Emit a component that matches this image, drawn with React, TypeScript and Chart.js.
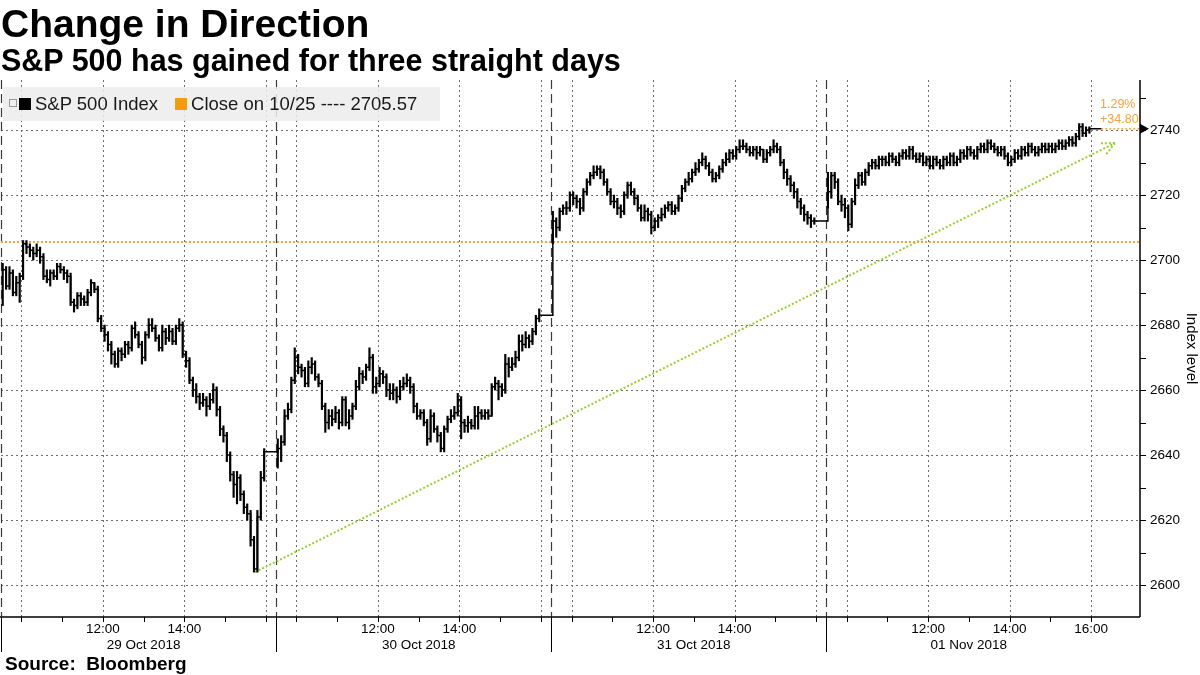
import React, { useEffect, useRef } from "react";
import { Chart, registerables } from "chart.js";

Chart.register(...registerables);

// ---------- data ----------
const dayLabels = ["29 Oct 2018", "30 Oct 2018", "31 Oct 2018", "01 Nov 2018"];

const close29 = [2697,2692,2696,2690,2693,2695,2705,2704,2703,2702,2703,2701,2695,2694,2696,2695,2698,2697,2696,2695,2687,2686,2689,2688,2687,2690,2693,2691,2682,2679,2677,2674,2671,2668,2672,2671,2674,2673,2679,2677,2674,2670,2677,2680,2679,2676,2673,2678,2676,2678,2675,2679,2680,2671,2669,2663,2660,2658,2656,2657,2655,2657,2660,2654,2648,2646,2640,2634,2631,2633,2628,2624,2622,2614,2605,2621,2633,2641];
const high29 = [2699,2698,2698,2697,2695,2696,2706,2706,2705,2704,2705,2704,2702,2697,2697,2697,2699,2699,2698,2697,2696,2688,2690,2690,2689,2691,2694,2693,2692,2683,2680,2678,2675,2672,2673,2673,2675,2675,2680,2681,2678,2675,2678,2682,2682,2680,2677,2680,2679,2680,2679,2680,2682,2681,2672,2670,2664,2662,2659,2659,2658,2659,2662,2661,2655,2649,2647,2641,2635,2635,2634,2629,2625,2623,2615,2623,2635,2642];
const low29 = [2686,2691,2691,2689,2689,2687,2694,2702,2701,2700,2701,2699,2694,2693,2692,2694,2694,2696,2694,2693,2686,2684,2685,2686,2686,2686,2689,2690,2681,2678,2675,2672,2668,2667,2667,2669,2670,2671,2672,2676,2673,2668,2669,2676,2678,2675,2672,2672,2674,2675,2674,2674,2678,2670,2667,2662,2658,2656,2654,2655,2652,2654,2656,2652,2646,2644,2638,2632,2627,2625,2626,2622,2620,2612,2604,2604,2620,2632];

const close30 = [2642,2644,2652,2654,2663,2670,2667,2666,2662,2667,2668,2664,2662,2655,2650,2652,2651,2653,2650,2657,2650,2652,2655,2661,2665,2664,2667,2670,2661,2662,2665,2664,2660,2659,2660,2658,2661,2662,2663,2661,2655,2652,2653,2650,2645,2652,2648,2646,2642,2648,2651,2652,2653,2657,2650,2649,2650,2649,2652,2653,2652,2653,2652,2661,2662,2661,2660,2668,2667,2668,2670,2675,2674,2676,2675,2678,2682,2683];
const high30 = [2645,2646,2654,2656,2664,2673,2671,2668,2667,2669,2670,2669,2665,2663,2656,2654,2654,2655,2654,2658,2658,2654,2656,2663,2667,2666,2668,2673,2671,2664,2667,2666,2665,2662,2662,2661,2663,2664,2665,2664,2662,2656,2654,2654,2651,2654,2653,2649,2647,2649,2652,2654,2655,2659,2658,2651,2652,2651,2655,2655,2654,2654,2654,2662,2664,2663,2662,2671,2670,2670,2672,2677,2677,2678,2677,2679,2683,2685];
const low30 = [2636,2638,2643,2651,2653,2662,2665,2664,2661,2661,2665,2663,2661,2654,2647,2648,2649,2650,2648,2649,2649,2648,2651,2654,2660,2662,2663,2666,2659,2659,2661,2662,2658,2657,2657,2656,2657,2660,2661,2659,2653,2651,2651,2649,2643,2644,2647,2644,2641,2641,2647,2650,2651,2652,2645,2647,2647,2648,2648,2648,2651,2651,2651,2652,2660,2657,2658,2659,2664,2666,2667,2669,2672,2673,2673,2674,2677,2681];

const close31 = [2712,2710,2715,2716,2716,2720,2719,2718,2716,2721,2724,2726,2727,2728,2727,2724,2721,2718,2718,2716,2715,2720,2723,2721,2719,2716,2713,2715,2714,2710,2712,2713,2714,2716,2717,2715,2716,2719,2722,2724,2725,2727,2728,2730,2731,2729,2727,2725,2726,2728,2730,2731,2733,2732,2734,2735,2735,2734,2733,2734,2733,2734,2731,2733,2734,2735,2734,2730,2727,2725,2723,2721,2718,2716,2714,2713,2712,2712];
const high31 = [2715,2713,2716,2717,2718,2721,2721,2720,2719,2722,2725,2727,2729,2729,2729,2728,2725,2722,2720,2719,2717,2721,2724,2724,2722,2720,2717,2717,2716,2715,2713,2714,2716,2717,2718,2718,2717,2720,2723,2725,2727,2728,2730,2731,2733,2732,2730,2728,2727,2729,2731,2733,2734,2734,2735,2737,2737,2736,2735,2735,2735,2735,2734,2734,2735,2737,2736,2735,2731,2728,2726,2724,2722,2719,2717,2715,2714,2713];
const low31 = [2705,2707,2709,2714,2714,2715,2717,2716,2714,2715,2720,2723,2725,2726,2725,2723,2720,2717,2716,2714,2713,2714,2719,2720,2717,2715,2712,2712,2712,2708,2709,2710,2712,2713,2715,2714,2714,2715,2718,2721,2723,2724,2726,2727,2729,2728,2726,2724,2724,2725,2727,2729,2730,2731,2731,2733,2734,2733,2732,2732,2731,2732,2730,2730,2732,2733,2733,2729,2725,2723,2721,2719,2716,2714,2712,2711,2710,2711];

const close01 = [2721,2726,2724,2718,2717,2716,2711,2718,2723,2726,2724,2727,2729,2730,2729,2731,2731,2730,2732,2731,2730,2732,2733,2732,2734,2732,2731,2732,2730,2731,2729,2731,2730,2729,2731,2730,2732,2730,2731,2733,2732,2734,2733,2732,2734,2735,2734,2736,2735,2734,2733,2734,2732,2730,2731,2733,2732,2734,2733,2735,2734,2733,2734,2735,2734,2735,2734,2735,2736,2735,2736,2737,2736,2738,2741,2739,2740,2740.37];
const high01 = [2727,2727,2727,2725,2720,2719,2717,2719,2725,2727,2727,2728,2730,2731,2731,2732,2732,2732,2733,2733,2732,2733,2734,2734,2735,2735,2733,2733,2733,2732,2732,2732,2732,2731,2732,2732,2733,2733,2732,2734,2734,2735,2735,2734,2735,2736,2736,2737,2737,2736,2735,2735,2735,2733,2732,2734,2734,2735,2735,2736,2736,2735,2735,2736,2736,2736,2736,2736,2737,2737,2737,2738,2738,2739,2742,2742,2741,2741];
const low01 = [2716,2719,2722,2717,2715,2713,2709,2710,2717,2722,2723,2723,2726,2728,2728,2728,2729,2729,2729,2730,2729,2729,2731,2731,2731,2731,2730,2730,2729,2729,2728,2728,2729,2728,2728,2729,2729,2729,2729,2730,2731,2731,2732,2731,2731,2733,2733,2733,2734,2733,2732,2732,2731,2729,2729,2730,2731,2731,2732,2732,2733,2732,2732,2733,2733,2733,2733,2733,2734,2734,2734,2735,2735,2735,2737,2738,2738,2739];

const prevClose = 2705.57;
const trendX = [374, 1640];
const trendY = [2604, 2736];
const yLabelTicks = [2600, 2620, 2640, 2660, 2680, 2700, 2720, 2740];
const gridHours = [10, 12, 14, 16];
const tickHours = [10, 11, 12, 13, 14, 15, 16];

// session timeline: 09:30 -> 16:15 = 405 minutes per day, 5-minute bars
const SESSION = 405;
const BAR = 5;
const X_MAX = 1677;
const Y_MIN = 2590.2;
const Y_MAX = 2755.4;

const days = [
  { c: close29, h: high29, l: low29 },
  { c: close30, h: high30, l: low30 },
  { c: close31, h: high31, l: low31 },
  { c: close01, h: high01, l: low01 },
];

const hourX = (d: number, h: number) => d * SESSION + (h - 9.5) * 60;

const FONT = "'Liberation Sans', Arial, sans-serif";
const ORANGE = "#f2a33a";
const GREEN = "#9ccc34";

export default function App() {
  const ref = useRef<HTMLCanvasElement | null>(null);

  useEffect(() => {
    const barPts: any[] = [];
    const linePts: any[] = [];
    days.forEach((d, di) => {
      d.c.forEach((c, k) => {
        const x = di * SESSION + BAR * k + 2.5;
        barPts.push({ x, y: [d.l[k], d.h[k]] });
        linePts.push({ x, y: c });
      });
      linePts.push({ x: di * SESSION + SESSION, y: d.c[d.c.length - 1] });
    });
    const last = close01[close01.length - 1];
    const lastX = 3 * SESSION + SESSION;
    const chg = last - prevClose;
    const pct = (chg / prevClose) * 100;

    const xTicks: number[] = [];
    for (let d = 0; d < 4; d++) for (const h of tickHours) xTicks.push(hourX(d, h));

    const overlay = {
      id: "overlay",
      beforeDatasetsDraw(chart: any) {
        const { ctx, chartArea: a, scales } = chart;
        const x = scales.x, y = scales.y;
        ctx.save();
        ctx.lineWidth = 1;
        ctx.strokeStyle = "#6e6e6e";
        ctx.setLineDash([2, 3]);
        for (const v of yLabelTicks) {
          const py = Math.round(y.getPixelForValue(v)) + 0.5;
          ctx.beginPath(); ctx.moveTo(a.left, py); ctx.lineTo(a.right, py); ctx.stroke();
        }
        for (let d = 0; d < 4; d++) {
          for (const h of gridHours) {
            const px = Math.round(x.getPixelForValue(hourX(d, h))) + 0.5;
            ctx.beginPath(); ctx.moveTo(px, a.top); ctx.lineTo(px, a.bottom); ctx.stroke();
          }
        }
        ctx.strokeStyle = "#3a3a3a";
        ctx.lineWidth = 1.2;
        ctx.setLineDash([9, 5]);
        for (let d = 0; d < 4; d++) {
          const px = Math.round(x.getPixelForValue(d * SESSION)) + 0.5;
          ctx.beginPath(); ctx.moveTo(px, a.top); ctx.lineTo(px, a.bottom); ctx.stroke();
        }
        ctx.restore();
      },
      afterDraw(chart: any) {
        const { ctx, chartArea: a, scales } = chart;
        const x = scales.x, y = scales.y;
        ctx.save();
        ctx.setLineDash([]);
        ctx.strokeStyle = "#000";
        ctx.lineWidth = 1.5;
        // axes
        ctx.beginPath();
        ctx.moveTo(0, a.bottom); ctx.lineTo(a.right, a.bottom);
        ctx.moveTo(a.right, a.top); ctx.lineTo(a.right, a.bottom);
        ctx.stroke();
        ctx.lineWidth = 1;
        // y tick marks every 10
        for (let v = 2600; v <= 2750; v += 10) {
          const py = Math.round(y.getPixelForValue(v)) + 0.5;
          ctx.beginPath(); ctx.moveTo(a.right, py); ctx.lineTo(a.right + 6, py); ctx.stroke();
        }
        // x tick marks
        for (const t of xTicks) {
          const px = Math.round(x.getPixelForValue(t)) + 0.5;
          ctx.beginPath(); ctx.moveTo(px, a.bottom); ctx.lineTo(px, a.bottom + 5); ctx.stroke();
        }
        for (let d = 0; d < 4; d++) {
          const px = Math.round(x.getPixelForValue(d * SESSION)) + 0.5;
          ctx.beginPath(); ctx.moveTo(px, a.bottom); ctx.lineTo(px, a.bottom + 35); ctx.stroke();
        }
        // last price triangle
        const ly = y.getPixelForValue(last);
        ctx.fillStyle = "#000";
        ctx.beginPath();
        ctx.moveTo(a.right, ly - 5); ctx.lineTo(a.right + 9, ly); ctx.lineTo(a.right, ly + 5);
        ctx.closePath(); ctx.fill();
        // arrow head on trend line
        const x0 = x.getPixelForValue(trendX[0]), y0 = y.getPixelForValue(trendY[0]);
        const x1 = x.getPixelForValue(trendX[1]), y1 = y.getPixelForValue(trendY[1]);
        const ang = Math.atan2(y1 - y0, x1 - x0);
        ctx.strokeStyle = GREEN;
        ctx.lineWidth = 2;
        ctx.setLineDash([2, 2]);
        for (const s of [-1, 1]) {
          const aa = ang + Math.PI + s * 0.45;
          ctx.beginPath();
          ctx.moveTo(x1, y1);
          ctx.lineTo(x1 + 14 * Math.cos(aa), y1 + 14 * Math.sin(aa));
          ctx.stroke();
        }
        // change annotation
        ctx.fillStyle = ORANGE;
        ctx.font = `12.5px ${FONT}`;
        ctx.textAlign = "left";
        ctx.textBaseline = "middle";
        ctx.fillText(`${pct.toFixed(2)}%`, a.right - 40, ly - 24);
        ctx.fillText(`${chg >= 0 ? "+" : ""}${chg.toFixed(2)}`, a.right - 40, ly - 9);
        ctx.restore();
      },
    };

    const chart = new Chart(ref.current as HTMLCanvasElement, {
      type: "line",
      data: {
        datasets: [
          {
            type: "line",
            label: "S&P 500 Index",
            data: linePts,
            borderColor: "#000",
            borderWidth: 1.5,
            stepped: "before",
            pointRadius: 0,
            order: 0,
          } as any,
          {
            type: "bar",
            label: "range",
            data: barPts,
            backgroundColor: "#000",
            borderWidth: 0,
            barThickness: 1.5,
            order: 1,
          } as any,
          {
            type: "line",
            label: "last",
            data: [{ x: lastX, y: last }, { x: X_MAX, y: last }],
            borderColor: ORANGE,
            borderWidth: 1.5,
            borderDash: [2, 2],
            pointRadius: 0,
            order: 2,
          } as any,
          {
            type: "line",
            label: "Close on 10/25",
            data: [{ x: 0, y: prevClose }, { x: X_MAX, y: prevClose }],
            borderColor: ORANGE,
            borderWidth: 2,
            borderDash: [2, 2],
            pointRadius: 0,
            order: 3,
          } as any,
          {
            type: "line",
            label: "trend",
            data: [{ x: trendX[0], y: trendY[0] }, { x: trendX[1], y: trendY[1] }],
            borderColor: GREEN,
            borderWidth: 2,
            borderDash: [2, 2],
            pointRadius: 0,
            order: 4,
          } as any,
        ],
      },
      options: {
        animation: false,
        responsive: false,
        devicePixelRatio: 1,
        layout: { padding: { left: 1, top: 80, right: 0, bottom: 0 } },
        plugins: { legend: { display: false }, tooltip: { enabled: false } },
        scales: {
          x: {
            type: "linear",
            min: 0,
            max: X_MAX,
            offset: false,
            grid: { display: false, drawTicks: false, tickLength: 0 },
            border: { display: false },
            afterBuildTicks: (scale: any) => {
              scale.ticks = xTicks.map((v) => ({ value: v }));
            },
            afterFit: (scale: any) => { scale.height = 58; },
            ticks: {
              autoSkip: false,
              maxRotation: 0,
              minRotation: 0,
              padding: 4,
              color: "#000",
              font: { family: FONT, size: 13.5 },
              callback: (value: any) => {
                const v = Number(value);
                const d = Math.floor(v / SESSION);
                const h = 9.5 + (v - d * SESSION) / 60;
                if (Math.abs(h - 12) < 0.01) return "12:00";
                if (Math.abs(h - 14) < 0.01) return "14:00";
                if (Math.abs(h - 13) < 0.01) return ["", dayLabels[d]];
                if (Math.abs(h - 16) < 0.01 && d === 3) return "16:00";
                return "";
              },
            },
          },
          y: {
            type: "linear",
            position: "right",
            min: Y_MIN,
            max: Y_MAX,
            grid: { display: false, drawTicks: false, tickLength: 0 },
            border: { display: false },
            afterFit: (scale: any) => { scale.width = 60; },
            title: {
              display: true,
              text: "Index level",
              color: "#000",
              font: { family: FONT, size: 15 },
              padding: 0,
            },
            ticks: {
              stepSize: 20,
              includeBounds: false,
              padding: 10,
              color: "#000",
              font: { family: FONT, size: 13.5 },
              callback: (v: any) => String(v),
            },
          },
        },
      },
      plugins: [overlay],
    });
    return () => chart.destroy();
  }, []);

  return (
    <div style={{ position: "fixed", left: 0, top: 0, width: 1200, height: 675, background: "#fff", overflow: "hidden" }}>
      <canvas ref={ref} width={1200} height={675} style={{ position: "absolute", left: 0, top: 0, width: 1200, height: 675 }} />
      <div style={{ position: "absolute", left: 1, top: 4, font: `bold 39px ${FONT}`, lineHeight: "39px", whiteSpace: "nowrap", color: "#000" }}>
        Change in Direction
      </div>
      <div style={{ position: "absolute", left: 1, top: 45, font: `bold 30.5px ${FONT}`, lineHeight: "30.5px", whiteSpace: "nowrap", color: "#000" }}>
        S&amp;P 500 has gained for three straight days
      </div>
      <div style={{ position: "absolute", left: 3, top: 87, width: 437, height: 34, background: "rgba(236,236,236,0.85)", display: "flex", alignItems: "center", font: `18.5px ${FONT}`, color: "#1a1a1a", whiteSpace: "nowrap" }}>
        <span style={{ display: "inline-block", width: 6, height: 6, border: "1px solid #999", marginLeft: 6, marginRight: 2, marginBottom: 3 }} />
        <span style={{ display: "inline-block", width: 12, height: 12, background: "#000", marginRight: 4 }} />
        <span>S&amp;P 500 Index</span>
        <span style={{ display: "inline-block", width: 12, height: 12, background: "#f39c12", marginLeft: 17, marginRight: 4 }} />
        <span>Close on 10/25 ---- 2705.57</span>
      </div>
      <div style={{ position: "absolute", left: 5, top: 654, font: `bold 19px ${FONT}`, lineHeight: "19px", whiteSpace: "nowrap", color: "#000" }}>
        Source:&nbsp; Bloomberg
      </div>
    </div>
  );
}
